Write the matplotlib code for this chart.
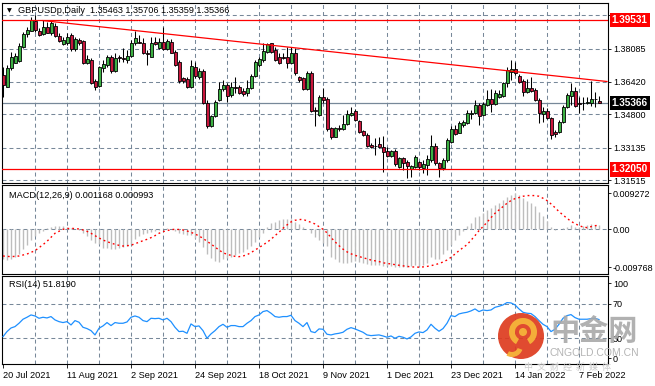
"""GBPUSD daily candles with MACD and RSI panels, MetaTrader look."""

import matplotlib

matplotlib.use("Agg")
import matplotlib.pyplot as plt
import numpy as np
from matplotlib.patches import Circle, Wedge
from matplotlib.transforms import blended_transform_factory

W, H = 655, 386

OPEN = [
    1.3677, 1.3619, 1.3710, 1.3739, 1.3749, 1.3819, 1.3880, 1.3899, 1.3949, 1.3897,
    1.3880, 1.3919, 1.3885, 1.3922, 1.3872, 1.3832, 1.3839, 1.3877, 1.3805, 1.3852,
    1.3847, 1.3739, 1.3752, 1.3647, 1.3622, 1.3710, 1.3727, 1.3765, 1.3699, 1.3765,
    1.3760, 1.3752, 1.3772, 1.3839, 1.3840, 1.3839, 1.3785, 1.3769, 1.3840, 1.3810,
    1.3844, 1.3805, 1.3844, 1.3794, 1.3744, 1.3660, 1.3655, 1.3615, 1.3719, 1.3669,
    1.3699, 1.3539, 1.3422, 1.3472, 1.3552, 1.3605, 1.3627, 1.3577, 1.3615, 1.3615,
    1.3599, 1.3585, 1.3610, 1.3672, 1.3727, 1.3752, 1.3794, 1.3835, 1.3802, 1.3765,
    1.3765, 1.3765, 1.3739, 1.3789, 1.3665, 1.3660, 1.3605, 1.3685, 1.3502, 1.3477,
    1.3565, 1.3557, 1.3410, 1.3369, 1.3410, 1.3407, 1.3432, 1.3477, 1.3497, 1.3449,
    1.3397, 1.3377, 1.3327, 1.3324, 1.3332, 1.3315, 1.3297, 1.3274, 1.3297, 1.3215,
    1.3260, 1.3244, 1.3207, 1.3219, 1.3240, 1.3210, 1.3227, 1.3252, 1.3322, 1.3235,
    1.3210, 1.3252, 1.3344, 1.3405, 1.3389, 1.3427, 1.3435, 1.3482, 1.3489, 1.3527,
    1.3477, 1.3527, 1.3557, 1.3532, 1.3569, 1.3574, 1.3635, 1.3694, 1.3705, 1.3672,
    1.3647, 1.3594, 1.3610, 1.3602, 1.3552, 1.3482, 1.3497, 1.3460, 1.3394, 1.3394,
    1.3444, 1.3519, 1.3572, 1.3599, 1.3535, 1.3539, 1.3539, 1.3535, 1.3557, 1.35463,
]
HIGH = [
    1.3719, 1.3727, 1.3794, 1.3789, 1.3835, 1.3894, 1.3919, 1.3969, 1.3977, 1.3910,
    1.3952, 1.3944, 1.3952, 1.3935, 1.3885, 1.3869, 1.3885, 1.3885, 1.3865, 1.3860,
    1.3852, 1.3777, 1.3760, 1.3655, 1.3722, 1.3752, 1.3777, 1.3777, 1.3785, 1.3777,
    1.3810, 1.3802, 1.3852, 1.3899, 1.3877, 1.3860, 1.3802, 1.3865, 1.3865, 1.3860,
    1.3919, 1.3855, 1.3855, 1.3802, 1.3752, 1.3669, 1.3669, 1.3752, 1.3744, 1.3710,
    1.3705, 1.3552, 1.3477, 1.3552, 1.3644, 1.3652, 1.3635, 1.3644, 1.3665, 1.3627,
    1.3610, 1.3652, 1.3682, 1.3752, 1.3769, 1.3835, 1.3839, 1.3839, 1.3819, 1.3785,
    1.3785, 1.3819, 1.3819, 1.3810, 1.3672, 1.3669, 1.3699, 1.3699, 1.3519, 1.3577,
    1.3610, 1.3569, 1.3419, 1.3419, 1.3427, 1.3477, 1.3502, 1.3515, 1.3505, 1.3452,
    1.3402, 1.3385, 1.3335, 1.3360, 1.3369, 1.3372, 1.3319, 1.3302, 1.3305, 1.3265,
    1.3265, 1.3252, 1.3227, 1.3277, 1.3249, 1.3252, 1.3277, 1.3377, 1.3339, 1.3244,
    1.3260, 1.3360, 1.3422, 1.3427, 1.3449, 1.3452, 1.3502, 1.3502, 1.3552, 1.3539,
    1.3544, 1.3602, 1.3605, 1.3602, 1.3602, 1.3644, 1.3719, 1.3752, 1.3744, 1.3682,
    1.3655, 1.3655, 1.3665, 1.3610, 1.3560, 1.3519, 1.3510, 1.3469, 1.3402, 1.3452,
    1.3527, 1.3585, 1.3635, 1.3615, 1.3569, 1.3569, 1.3569, 1.3649, 1.3594, 1.35706,
]
LOW = [
    1.3569, 1.3615, 1.3702, 1.3735, 1.3744, 1.3810, 1.3869, 1.3895, 1.3894, 1.3872,
    1.3877, 1.3885, 1.3877, 1.3865, 1.3844, 1.3827, 1.3827, 1.3799, 1.3799, 1.3827,
    1.3732, 1.3732, 1.3632, 1.3602, 1.3615, 1.3694, 1.3719, 1.3685, 1.3694, 1.3744,
    1.3744, 1.3735, 1.3769, 1.3827, 1.3835, 1.3782, 1.3727, 1.3765, 1.3827, 1.3805,
    1.3802, 1.3802, 1.3785, 1.3722, 1.3639, 1.3635, 1.3610, 1.3610, 1.3660, 1.3655,
    1.3532, 1.3410, 1.3419, 1.3469, 1.3549, 1.3599, 1.3544, 1.3569, 1.3585, 1.3582,
    1.3572, 1.3572, 1.3605, 1.3665, 1.3719, 1.3744, 1.3785, 1.3785, 1.3749, 1.3732,
    1.3755, 1.3710, 1.3735, 1.3677, 1.3644, 1.3602, 1.3602, 1.3494, 1.3422, 1.3472,
    1.3535, 1.3399, 1.3355, 1.3365, 1.3399, 1.3402, 1.3427, 1.3472, 1.3449, 1.3389,
    1.3372, 1.3315, 1.3310, 1.3277, 1.3310, 1.3194, 1.3269, 1.3269, 1.3222, 1.3210,
    1.3202, 1.3160, 1.3169, 1.3210, 1.3202, 1.3185, 1.3177, 1.3244, 1.3227, 1.3169,
    1.3202, 1.3244, 1.3339, 1.3377, 1.3385, 1.3419, 1.3432, 1.3455, 1.3482, 1.3427,
    1.3472, 1.3522, 1.3494, 1.3527, 1.3560, 1.3569, 1.3619, 1.3652, 1.3677, 1.3639,
    1.3572, 1.3585, 1.3594, 1.3549, 1.3439, 1.3444, 1.3455, 1.3355, 1.3365, 1.3389,
    1.3435, 1.3510, 1.3527, 1.3519, 1.3489, 1.3502, 1.3532, 1.3522, 1.3515, 1.35359,
]
CLOSE = [
    1.3627, 1.3710, 1.3769, 1.3772, 1.3822, 1.3880, 1.3902, 1.3952, 1.3902, 1.3877,
    1.3915, 1.3889, 1.3935, 1.3872, 1.3849, 1.3852, 1.3869, 1.3805, 1.3855, 1.3839,
    1.3739, 1.3755, 1.3635, 1.3619, 1.3715, 1.3732, 1.3765, 1.3699, 1.3760, 1.3762,
    1.3755, 1.3772, 1.3839, 1.3860, 1.3839, 1.3785, 1.3784, 1.3835, 1.3832, 1.3844,
    1.3805, 1.3849, 1.3789, 1.3727, 1.3647, 1.3647, 1.3615, 1.3722, 1.3672, 1.3699,
    1.3535, 1.3422, 1.3472, 1.3544, 1.3605, 1.3627, 1.3572, 1.3615, 1.3614, 1.3589,
    1.3582, 1.3610, 1.3672, 1.3744, 1.3755, 1.3799, 1.3832, 1.3794, 1.3752, 1.3735,
    1.3764, 1.3739, 1.3789, 1.3685, 1.3652, 1.3605, 1.3685, 1.3499, 1.3499, 1.3565,
    1.3552, 1.3405, 1.3369, 1.3410, 1.3409, 1.3432, 1.3482, 1.3489, 1.3452, 1.3394,
    1.3377, 1.3322, 1.3319, 1.3322, 1.3315, 1.3294, 1.3274, 1.3297, 1.3230, 1.3260,
    1.3239, 1.3224, 1.3222, 1.3269, 1.3219, 1.3232, 1.3255, 1.3322, 1.3235, 1.3210,
    1.3252, 1.3352, 1.3405, 1.3382, 1.3439, 1.3444, 1.3485, 1.3489, 1.3527, 1.3472,
    1.3532, 1.3557, 1.3530, 1.3589, 1.3582, 1.3635, 1.3702, 1.3707, 1.3685, 1.3644,
    1.3594, 1.3610, 1.3599, 1.3552, 1.3485, 1.3497, 1.3460, 1.3377, 1.3380, 1.3444,
    1.3519, 1.3577, 1.3599, 1.3522, 1.3533, 1.3537, 1.3540, 1.3557, 1.3555, 1.35366,
]

MACD_MAIN = [
    -0.00773, -0.00790, -0.00756, -0.00704, -0.00636, -0.00515, -0.00404, -0.00275, -0.00172, -0.00103,
    -0.00034, 0.00026, 0.00069, 0.00086, 0.00094, 0.00086, 0.00069, 0.00043, 0.00017, -0.00017,
    -0.00086, -0.00172, -0.00275, -0.00344, -0.00378, -0.00472, -0.00490, -0.00507, -0.00498, -0.00472,
    -0.00447, -0.00430, -0.00380, -0.00250, -0.00180, -0.00120, -0.00090, -0.00060, -0.00043, -0.00017,
    0.00017, 0.00026, 0.00009, -0.00034, -0.00086, -0.00120, -0.00146, -0.00146, -0.00232, -0.00318,
    -0.00447, -0.00636, -0.00747, -0.00807, -0.00833, -0.00773, -0.00739, -0.00704, -0.00661, -0.00618,
    -0.00576, -0.00515, -0.00430, -0.00318, -0.00206, -0.00086, 0.00069, 0.00155, 0.00198, 0.00241,
    0.00266, 0.00275, 0.00258, 0.00198, 0.00137, 0.00069, 0.00003, -0.00103, -0.00189, -0.00275,
    -0.00361, -0.00430, -0.00704, -0.00773, -0.00833, -0.00859, -0.00876, -0.00833, -0.00807, -0.00842,
    -0.00859, -0.00893, -0.00911, -0.00919, -0.00928, -0.00945, -0.00945, -0.00936, -0.00962, -0.00971,
    -0.00977, -0.00971, -0.00953, -0.00928, -0.00936, -0.00911, -0.00859, -0.00722, -0.00773, -0.00756,
    -0.00640, -0.00540, -0.00400, -0.00270, -0.00150, -0.00040, 0.00086, 0.00172, 0.00309, 0.00344,
    0.00430, 0.00498, 0.00541, 0.00627, 0.00687, 0.00756, 0.00842, 0.00893, 0.009272, 0.00885,
    0.00799, 0.00739, 0.00687, 0.00601, 0.00455, 0.00344, 0.00223, 0.00069, -0.00017, 0.00002,
    0.00026, 0.00069, 0.00112, 0.00069, 0.00069, 0.00086, 0.00103, 0.00129, 0.00120, 0.001168,
]
MACD_SIGNAL = [
    -0.00687, -0.00696, -0.00704, -0.00696, -0.00687, -0.00661, -0.00636, -0.00593, -0.00550, -0.00472,
    -0.00395, -0.00309, -0.00206, -0.00103, -0.00052, 0.00000, 0.00017, 0.00026, 0.00017, 0.00009,
    -0.00017, -0.00052, -0.00103, -0.00163, -0.00223, -0.00275, -0.00318, -0.00352, -0.00387, -0.00412,
    -0.00430, -0.00421, -0.00412, -0.00369, -0.00335, -0.00292, -0.00258, -0.00215, -0.00163, -0.00103,
    -0.00060, -0.00034, -0.00009, 0.00000, -0.00005, -0.00017, -0.00043, -0.00077, -0.00120, -0.00172,
    -0.00232, -0.00309, -0.00378, -0.00455, -0.00533, -0.00601, -0.00644, -0.00670, -0.00696, -0.00704,
    -0.00687, -0.00653, -0.00601, -0.00533, -0.00472, -0.00404, -0.00335, -0.00258, -0.00163, -0.00077,
    0.00026, 0.00112, 0.00189, 0.00232, 0.00249, 0.00258, 0.00215, 0.00180, 0.00137, 0.00069,
    0.00000, -0.00090, -0.00210, -0.00320, -0.00420, -0.00510, -0.00580, -0.00630, -0.00670, -0.00700,
    -0.00730, -0.00760, -0.00790, -0.00810, -0.00830, -0.00860, -0.00880, -0.00890, -0.00910, -0.00925,
    -0.00940, -0.00955, -0.00965, -0.00972, -0.00974, -0.00968, -0.00955, -0.00935, -0.00912, -0.00880,
    -0.00842, -0.00790, -0.00722, -0.00636, -0.00550, -0.00472, -0.00395, -0.00283, -0.00163, -0.00034,
    0.00069, 0.00180, 0.00301, 0.00412, 0.00498, 0.00584, 0.00670, 0.00739, 0.00790, 0.00816,
    0.00850, 0.00868, 0.00868, 0.00868, 0.00850, 0.00799, 0.00739, 0.00653, 0.00558, 0.00455,
    0.00369, 0.00283, 0.00206, 0.00146, 0.00094, 0.00060, 0.00043, 0.00069, 0.00094, 0.000993,
]
RSI = [
    31.9, 37.8, 42.0, 43.6, 47.5, 52.2, 54.5, 57.2, 56.0, 53.3,
    54.5, 53.7, 55.3, 51.4, 49.4, 48.3, 49.4, 45.5, 50.6, 48.7,
    42.8, 41.3, 38.9, 33.9, 41.7, 44.4, 48.3, 44.8, 48.3, 47.5,
    47.5, 49.0, 54.5, 56.0, 54.5, 50.6, 49.4, 53.3, 52.9, 53.3,
    51.4, 53.3, 49.4, 42.8, 37.8, 38.2, 35.8, 46.7, 43.6, 44.4,
    38.9, 30.0, 35.1, 38.9, 43.6, 46.3, 42.8, 44.8, 44.8, 43.6,
    43.6, 47.5, 50.6, 55.3, 57.2, 61.1, 62.3, 59.2, 55.3, 54.5,
    55.3, 55.3, 56.8, 50.6, 47.5, 43.6, 48.3, 37.8, 36.6, 40.9,
    40.5, 34.7, 33.9, 35.1, 35.8, 37.0, 40.5, 42.4, 40.9, 38.9,
    37.0, 33.9, 33.1, 33.5, 33.9, 32.7, 31.2, 32.7, 30.0, 32.3,
    31.2, 29.2, 31.6, 35.8, 37.4, 36.6, 39.7, 46.3, 41.7, 38.2,
    41.3, 47.5, 56.4, 55.3, 58.4, 59.5, 60.3, 61.9, 64.2, 61.1,
    63.0, 62.3, 63.0, 66.1, 67.3, 68.9, 71.6, 71.2, 68.9, 64.2,
    60.3, 59.2, 58.8, 55.3, 50.6, 46.3, 43.6, 37.8, 40.5, 46.3,
    53.3, 56.4, 57.6, 54.1, 52.2, 52.2, 52.2, 52.9, 53.3, 51.819,
]

DATE_LABELS = ["20 Jul 2021", "11 Aug 2021", "2 Sep 2021", "24 Sep 2021", "18 Oct 2021",
               "9 Nov 2021", "1 Dec 2021", "23 Dec 2021", "14 Jan 2022", "7 Feb 2022"]
LABEL_BARS = [0, 16, 32, 48, 64, 80, 96, 112, 128, 144]

PRICE_GRID = [1.39750, 1.38085, 1.36420, 1.34800, 1.33135, 1.31515]
PRICE_LABELS = ["", "1.38085", "1.36420", "1.34800", "1.33135", "1.31515"]
RESIST = 1.39531
SUPPORT = 1.32050
BID = 1.35366
TREND_BARS = [10, 151]
TREND_PRICES = [1.3949, 1.36445]

GREEN = "#3cb043"
RED = "#c8163c"
GRID = "#778899"
DASH = (0, (3.8, 2.9))

plt.rcParams["font.family"] = ["Liberation Sans", "DejaVu Sans"]
plt.rcParams["font.size"] = 6.5


def panel(fig, top, bottom):
    ax = fig.add_axes([2 / W, 1 - bottom / H, 606 / W, (bottom - top) / H])
    ax.set_xlim(-0.25, 151.25)
    for s in ax.spines.values():
        s.set_linewidth(0.8)
        s.set_color("black")
    ax.yaxis.tick_right()
    ax.tick_params(axis="y", length=2, pad=1.5, width=0.6, labelsize=6.5)
    ax.tick_params(axis="x", length=0, labelbottom=False)
    for b in range(8, 151, 8):
        ax.axvline(b, color=GRID, lw=0.75, ls=DASH, zorder=0)
    return ax


def main():
    fig = plt.figure(figsize=(W / 100, H / 100), dpi=100)
    ax_p = panel(fig, 3, 183)
    ax_m = panel(fig, 185, 274)
    ax_r = panel(fig, 276, 364)

    x = np.arange(len(CLOSE))
    o, hi, lo, c = (np.array(v) for v in (OPEN, HIGH, LOW, CLOSE))
    up = c >= o

    # price panel
    ax_p.set_ylim(1.3137, 1.4037)
    ax_p.set_yticks(PRICE_GRID)
    ax_p.set_yticklabels(PRICE_LABELS)
    for t in PRICE_GRID:
        ax_p.axhline(t, color=GRID, lw=0.75, ls=DASH, zorder=0)
    ax_p.axhline(BID, color=GRID, lw=0.9, zorder=1)
    ax_p.vlines(x, lo, hi, color="black", lw=0.75, zorder=3)
    ax_p.bar(x, np.abs(c - o), bottom=np.minimum(o, c), width=0.75,
             color=np.where(up, GREEN, RED), edgecolor="black", linewidth=0.6, zorder=4)
    ax_p.axhline(RESIST, color="red", lw=0.9, zorder=5)
    ax_p.axhline(SUPPORT, color="red", lw=0.9, zorder=5)
    ax_p.plot(TREND_BARS, TREND_PRICES, color="red", lw=0.9, zorder=5)

    tr = blended_transform_factory(ax_p.transAxes, ax_p.transData)
    for val, bg in ((RESIST, "red"), (BID, "black"), (SUPPORT, "red")):
        ax_p.text(1.0062, val, f"{val:.5f}", transform=tr, color="white", fontsize=7.2,
                  fontweight="bold", va="center", ha="left", clip_on=False, zorder=10,
                  bbox=dict(boxstyle="square,pad=0.22", fc=bg, ec="none"))

    fig.text(18 / W, 1 - 10.5 / H, "GBPUSDp,Daily  1.35463 1.35706 1.35359 1.35366",
             va="center", ha="left", fontsize=6.6)
    fig.text(9.5 / W, 1 - 10.5 / H, "\u25bc", va="center", ha="center", fontsize=4.5,
             family=["DejaVu Sans"])

    # MACD panel
    ax_m.set_ylim(-0.0115, 0.0114)
    ax_m.axhline(0, color=GRID, lw=0.75, ls=DASH, zorder=0)
    ax_m.vlines(x, 0, MACD_MAIN, color="#bdbdbd", lw=1.0, zorder=2)
    ax_m.plot(x, MACD_SIGNAL, color="red", lw=1.0, ls=(0, (1.3, 2.2)), zorder=3)
    ax_m.set_yticks([0.009272, 0.0, -0.009768])
    ax_m.set_yticklabels(["0.009272", "0.00", "-0.009768"])
    ax_m.text(7 / 606, 0.88, "MACD(12,26,9) 0.001168 0.000993", transform=ax_m.transAxes,
              va="center", ha="left", fontsize=6.6)

    # RSI panel
    ax_r.set_ylim(0, 102.6)
    for lvl in (70, 30):
        ax_r.axhline(lvl, color=GRID, lw=0.75, ls=DASH, zorder=0)
    ax_r.plot(x, RSI, color="#1e90ff", lw=0.9, zorder=3)
    ax_r.set_yticks([94, 70, 30, 6.6])
    ax_r.set_yticklabels(["100", "70", "30", "0"])
    ax_r.text(7 / 606, 0.9, "RSI(14) 51.8190", transform=ax_r.transAxes,
              va="center", ha="left", fontsize=6.6)
    ax_r.set_xticks(LABEL_BARS)
    ax_r.set_xticklabels(DATE_LABELS, ha="left")
    ax_r.tick_params(axis="x", length=3, width=0.6, pad=2, labelbottom=True, labelsize=6.6)

    # watermark
    ax_w = fig.add_axes([0, 0, 1, 1], zorder=20)
    ax_w.set_xlim(0, W)
    ax_w.set_ylim(H, 0)
    ax_w.axis("off")
    ax_w.patch.set_alpha(0)
    ax_w.add_patch(Circle((521, 336), 23, fc="#de3b1e", ec="none", alpha=0.92))
    ax_w.add_patch(Wedge((523, 332), 14, 120, 420, width=6, fc="#f6b43a", ec="none", alpha=0.95))
    ax_w.add_patch(Circle((523, 332), 4, fc="#f6b43a", ec="none", alpha=0.95))
    ax_w.add_patch(Wedge((512, 346), 11, 20, 120, width=5, fc="#f6b43a", ec="none", alpha=0.95))
    ax_w.text(594, 331, "中金网", fontsize=21, fontweight="bold", color="#a9a9a9",
              ha="center", va="center", family=["Noto Sans CJK SC", "DejaVu Sans"], alpha=0.9)
    ax_w.text(594, 353, "CNGOLD.COM.CN", fontsize=7.5, color="#b4b4b4", ha="center", va="center")
    ax_w.text(568, 367, "中  文  财  经  新  媒  体", fontsize=6.5, color="#cdcdcd",
              ha="center", va="center", family=["Noto Sans CJK SC", "DejaVu Sans"])

    fig.savefig("out.png", dpi=100)
    plt.close(fig)


if __name__ == "__main__":
    main()
